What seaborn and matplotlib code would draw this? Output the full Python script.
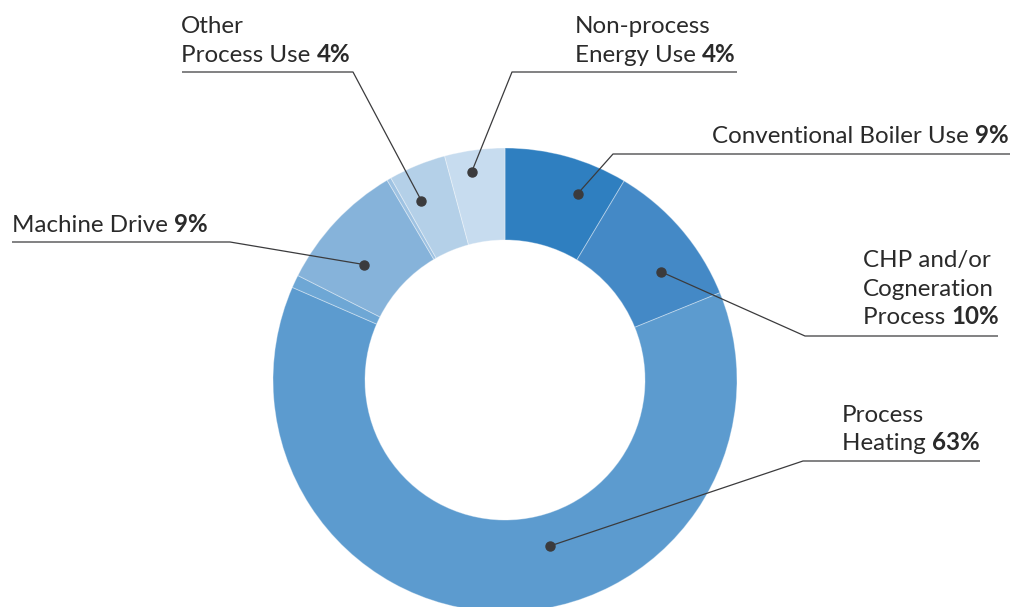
import matplotlib
matplotlib.use("Agg")
import numpy as np
import matplotlib.pyplot as plt
import seaborn as sns

# slice shares (%), clockwise from 12 o'clock
categories = ["Conventional Boiler Use", "CHP and/or Cogneration Process",
              "Process Heating", "Other (small)", "Machine Drive", "Other (tiny)",
              "Other Process Use", "Non-process Energy Use"]
shares = [8.6, 10.3, 62.8, 0.9, 9.1, 0.3, 4.0, 4.2]
colors = ["#2f7fc0", "#4489c6", "#5c9bcf", "#6ea7d5", "#86b3da", "#9ec2e2",
          "#b4d0e8", "#c7dcef"]

# label texts: (lines of plain text, bold percent on last line)
label_lines = [
    (["Conventional Boiler Use "], "9%"),
    (["CHP and/or", "Cogneration", "Process "], "10%"),
    (["Process", "Heating "], "63%"),
    (["Machine Drive "], "9%"),
    (["Other", "Process Use "], "4%"),
    (["Non-process", "Energy Use "], "4%"),
]
label_slices = [0, 1, 2, 4, 6, 7]

W, H = 1011, 607
def Y(y):
    return H - y

sns.set_theme(style="white")
plt.rcParams['font.family'] = ['Lato', 'DejaVu Sans']

fig = plt.figure(figsize=(W / 100, H / 100), dpi=100)
ax = fig.add_axes([0, 0, 1, 1])

cx, cy, R, r_in = 505, Y(380), 232, 140
wedges, _ = ax.pie(shares, colors=colors, startangle=90, counterclock=False,
                   radius=R, center=(cx, cy),
                   wedgeprops=dict(width=R - r_in, edgecolor=(1, 1, 1, 0.35), linewidth=0.7))
ax.set_aspect("auto")
ax.set_xlim(0, W)
ax.set_ylim(0, H)
ax.axis("off")

# leader layout: (fraction within slice, dot radius, elbow xy, line end x, text x, first baseline y)
layout = [
    (0.69, 200, (613, 154), 1010, 712, 143),
    (0.66, 190, (805, 336), 998, 863, 267),
    (0.43, 172, (803, 461), 980, 842, 422),
    (0.385, 182, (230, 242), 12, 12, 232),
    (0.31, 198, (353, 72), 182, 181, 33),
    (0.40, 211, (512, 72), 737, 575, 33),
]

ink = "#3b3b3d"
txt = "#2a2a2a"
fs = 17.4
line_gap = 28.5
fig.canvas.draw()
renderer = fig.canvas.get_renderer()

for (lines, pct), si, (frac, rd, elbow, xend, tx, ty) in zip(label_lines, label_slices, layout):
    w = wedges[si]
    t1, t2 = w.theta1, w.theta2
    ang = max(t1, t2) - frac * abs(t2 - t1)
    dx = cx + rd * np.cos(np.radians(ang))
    dy = cy + rd * np.sin(np.radians(ang))
    ex, ey = elbow
    ax.plot([dx, ex, xend], [dy, Y(ey), Y(ey)], color=ink, lw=0.9, solid_capstyle="butt", zorder=3)
    ax.plot([dx], [dy], "o", color=ink, ms=6.5, zorder=4)
    for i, ln in enumerate(lines):
        t = ax.text(tx, Y(ty + i * line_gap), ln, fontsize=fs, color=txt,
                    ha="left", va="baseline")
    bb = t.get_window_extent(renderer)
    ax.text(bb.x1, Y(ty + (len(lines) - 1) * line_gap), pct, fontsize=fs,
            fontweight="bold", color=txt, ha="left", va="baseline",
            transform=None)

fig.savefig("out.png", dpi=100)
